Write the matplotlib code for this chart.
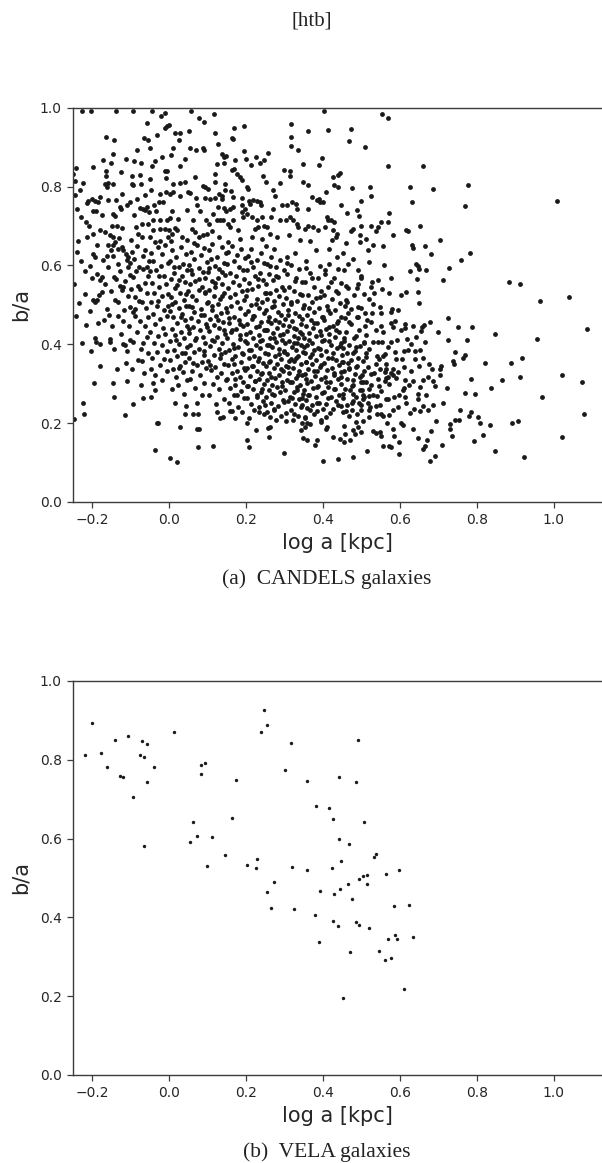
import matplotlib
matplotlib.use("Agg")
import matplotlib.pyplot as plt

# CANDELS galaxies: (log a [kpc], b/a)
cand_a = [(-.225,.991),(-.203,.991),(-.242,.846),(-.248,.832),(-.244,.815),(-.222,.810),(-.231,.790),
          (-.212,.758),(-.209,.764),(-.201,.769),(-.235,.663),(-.218,.586),(-.205,.598),(-.214,.710),
          (-.207,.701),(-.205,.484),(-.215,.448),(-.203,.382),(-.247,.211),(-.222,.251),(-.221,.224),
          (-.238,.742),(-.246,.553),(-.229,.612),(-.219,.528),(-.233,.505),(-.241,.471),(-.226,.402),
          (-.212,.671),(-.239,.634),(-.227,.722),(-.243,.779)]
cand_b = [(-.196,.849),(-.192,.763),(-.183,.760),(-.179,.773),(-.196,.739),(-.189,.739),(-.196,.680),
          (-.179,.689),(-.166,.684),(-.153,.676),(-.192,.621),(-.196,.629),(-.188,.579),(-.179,.564),
          (-.175,.570),(-.171,.614),(-.162,.625),(-.157,.597),(-.175,.532),(-.181,.524),(-.188,.513),
          (-.192,.507),(-.151,.535),(-.155,.473),(-.192,.416),(-.189,.405),(-.179,.401),(-.153,.414),
          (-.153,.405),(-.196,.511),(-.172,.868),(-.163,.925),(-.164,.839),(-.164,.828),(-.165,.807),
          (-.157,.810),(-.162,.798),(-.157,.767),(-.183,.455),(-.168,.462),(-.186,.652),(-.159,.652),
          (-.174,.728),(-.199,.568),(-.162,.489),(-.178,.345),(-.195,.302),(-.165,.553)]
cand_c = [(-.138,.991),(-.142,.918),(-.146,.883),(-.150,.860),(-.112,.870),(-.125,.836),(-.146,.807),
          (-.127,.749),(-.125,.743),(-.144,.731),(-.140,.726),(-.149,.701),(-.136,.699),(-.123,.695),
          (-.129,.670),(-.144,.672),(-.146,.653),(-.140,.659),(-.151,.638),(-.144,.625),(-.131,.642),
          (-.123,.646),(-.119,.638),(-.112,.629),(-.105,.621),(-.101,.606),(-.105,.597),(-.110,.613),
          (-.127,.587),(-.138,.566),(-.142,.570),(-.127,.549),(-.120,.545),(-.123,.537),(-.101,.575),
          (-.101,.494),(-.125,.425),(-.136,.338),(-.146,.302),(-.142,.266),(-.114,.220),(-.112,.352),
          (-.110,.308),(-.110,.384),(-.120,.401),(-.114,.397),(-.101,.411),(-.131,.472),(-.118,.458),
          (-.139,.512),(-.107,.523),(-.133,.604),(-.115,.561),(-.148,.446),(-.104,.446),(-.121,.781),
          (-.137,.765),(-.108,.752),(-.131,.507),(-.116,.488),(-.143,.389)]
cand_d = [(-.094,.991),(-.065,.922),(-.053,.917),(-.091,.866),(-.073,.859),(-.074,.830),(-.095,.828),
          (-.097,.807),(-.094,.804),(-.073,.807),(-.084,.769),(-.100,.760),(-.075,.746),(-.068,.743),
          (-.062,.741),(-.056,.748),(-.051,.735),(-.086,.697),(-.079,.680),(-.071,.673),(-.071,.705),
          (-.054,.704),(-.097,.634),(-.091,.617),(-.094,.570),(-.077,.596),(-.066,.591),(-.058,.596),
          (-.080,.549),(-.075,.541),(-.094,.482),(-.088,.490),(-.092,.405),(-.073,.389),(-.071,.357),
          (-.072,.296),(-.068,.264),(-.092,.249),(-.083,.432),(-.062,.447),(-.055,.469),(-.069,.508),
          (-.087,.521),(-.058,.531),(-.063,.556),(-.098,.541),(-.052,.612),(-.084,.648),(-.061,.639),
          (-.089,.472),(-.076,.458),(-.057,.418),(-.066,.402),(-.081,.361),(-.095,.338),(-.053,.379),
          (-.064,.326),(-.085,.585),(-.099,.665),(-.067,.623),(-.054,.572),(-.077,.509),(-.059,.493),
          (-.091,.727),(-.063,.778),(-.082,.893),(-.058,.961)]
cand_e = [(-.044,.991),(-.021,.978),(-.009,.986),(-.006,.954),(-.009,.948),(-.048,.898),(-.045,.853),
          (-.009,.839),(-.004,.839),(-.048,.818),(-.008,.822),(-.047,.791),(-.008,.785),(-.022,.781),
          (-.025,.760),(-.039,.754),(-.042,.714),(-.023,.716),(-.006,.716),(-.049,.672),(-.042,.689),
          (-.023,.693),(-.009,.693),(-.036,.659),(-.028,.646),(-.023,.663),(-.047,.338),(-.036,.283),
          (-.047,.266),(-.032,.199),(-.028,.200),(-.035,.131),(-.041,.612),(-.017,.628),(-.003,.605),
          (-.033,.588),(-.012,.574),(-.045,.556),(-.026,.546),(-.008,.552),(-.038,.531),(-.019,.522),
          (-.002,.528),(-.046,.508),(-.031,.497),(-.013,.488),(-.041,.476),(-.022,.465),(-.005,.471),
          (-.036,.452),(-.016,.441),(-.048,.432),(-.027,.421),(-.009,.426),(-.039,.403),(-.018,.398),
          (-.004,.384),(-.031,.381),(-.044,.366),(-.013,.362),(-.024,.347),(-.006,.333),(-.035,.322),
          (-.017,.309),(-.042,.301),(-.026,.573),(-.011,.651),(-.034,.737),(-.015,.762),(-.003,.671),
          (-.046,.631),(-.002,.496),(-.029,.509),(-.049,.585),(-.021,.598),(-.037,.866),(-.018,.874),
          (-.031,.931)]
cand_f = [(.000,.957),(.016,.936),(.030,.936),(.052,.941),(.025,.919),(.010,.898),(.043,.870),(.006,.879),
          (.029,.851),(.010,.807),(.029,.808),(.042,.811),(.011,.786),(.003,.780),(.030,.777),(.050,.786),
          (.047,.741),(.004,.721),(.007,.738),(.024,.718),(.000,.689),(.008,.680),(.016,.695),(.022,.689),
          (.033,.673),(.046,.665),(.003,.111),(.022,.102),(.030,.190),(.042,.224),(.005,.663),
          (.031,.647),(.008,.639),(.044,.628),(.019,.621),(.002,.612),(.037,.604),(.026,.596),(.047,.588),
          (.012,.581),(.033,.572),(.005,.566),(.041,.559),(.022,.551),(.015,.542),(.049,.536),(.029,.529),
          (.006,.521),(.038,.513),(.017,.507),(.045,.498),(.025,.491),(.003,.484),(.034,.476),(.011,.468),
          (.042,.462),(.021,.453),(.048,.446),(.007,.439),(.032,.431),(.016,.424),(.039,.415),(.002,.408),
          (.027,.401),(.046,.393),(.013,.386),(.035,.378),(.021,.369),(.004,.361),(.043,.354),(.028,.346),
          (.011,.338),(.036,.329),(.018,.318),(.047,.309),(.024,.296),(.008,.287),(.039,.274),(.016,.252),
          (.044,.243)]
cand_g = [(.057,.991),(.079,.975),(.092,.963),(.056,.897),(.071,.893),(.088,.897),(.092,.893),(.067,.824),
          (.089,.802),(.095,.798),(.070,.771),(.072,.752),(.055,.783),(.095,.770),(.059,.693),(.068,.684),
          (.079,.672),(.088,.676),(.098,.680),(.096,.714),(.063,.224),(.076,.224),(.072,.184),(.079,.186),
          (.076,.140),(.062,.716),(.081,.739),(.066,.658),
          (.072,.652),(.091,.644),(.057,.633),(.083,.626),(.064,.617),(.098,.609),(.051,.601),(.077,.593),
          (.088,.584),(.061,.577),(.095,.568),(.069,.561),(.054,.553),(.086,.546),(.078,.537),(.093,.529),
          (.059,.522),(.071,.513),(.099,.505),(.052,.497),(.084,.489),(.066,.482),(.091,.474),(.058,.466),
          (.075,.459),(.097,.451),(.063,.443),(.081,.436),(.053,.428),(.089,.419),(.069,.412),(.094,.404),
          (.056,.397),(.079,.389),(.066,.381),(.092,.372),(.051,.364),(.085,.356),(.073,.347),(.096,.339),
          (.061,.331),(.082,.322),(.055,.311),(.091,.302),(.068,.289),(.087,.271),(.074,.252)]
cand_h = [(.116,.983),(.119,.936),(.127,.909),(.139,.883),(.142,.876),(.148,.878),(.120,.832),(.124,.857),
          (.143,.859),(.102,.794),(.120,.811),(.145,.807),(.146,.790),(.131,.780),(.139,.777),(.137,.769),
          (.120,.771),(.128,.748),(.108,.769),(.144,.746),(.148,.738),(.114,.731),(.124,.714),(.133,.716),
          (.141,.714),(.105,.705),(.115,.143),(.124,.228),(.133,.213),(.141,.216),(.112,.688),(.131,.672),
          (.113,.655),(.137,.647),(.104,.639),(.148,.631),(.125,.622),(.109,.615),(.142,.607),(.119,.599),
          (.131,.591),(.102,.583),(.146,.576),(.127,.568),(.111,.561),(.139,.553),(.121,.545),(.105,.538),
          (.144,.531),(.116,.523),(.133,.516),(.101,.508),(.128,.501),(.149,.493),(.112,.486),(.136,.478),
          (.122,.471),(.107,.463),(.141,.456),(.118,.448),(.131,.441),(.103,.433),(.146,.426),(.124,.418),
          (.113,.411),(.138,.403),(.106,.396),(.129,.388),(.147,.381),(.117,.373),(.134,.366),(.102,.358),
          (.142,.351),(.121,.343),(.109,.335),(.136,.327),(.126,.318),(.148,.309),(.114,.298),(.131,.286),
          (.104,.272),(.143,.261),(.122,.248)]
cand_i = [(.168,.948),(.196,.954),(.164,.923),(.167,.920),(.194,.890),(.163,.842),(.169,.845),(.176,.832),
          (.184,.825),(.189,.817),(.161,.788),(.189,.770),(.189,.754),(.198,.744),(.193,.722),(.167,.773),
          (.167,.748),(.159,.743),(.154,.705),(.159,.697),(.167,.714),(.180,.689),(.189,.735),(.159,.231),
          (.163,.230),(.172,.214),(.202,.201),(.171,.868),(.153,.659),(.186,.667),
          (.163,.648),(.187,.641),(.154,.633),(.176,.626),(.198,.618),(.168,.611),(.151,.603),(.183,.596),
          (.192,.588),(.159,.581),(.174,.573),(.196,.566),(.166,.558),(.181,.551),(.153,.543),(.189,.536),
          (.171,.528),(.158,.521),(.194,.513),(.178,.506),(.162,.498),(.186,.491),(.152,.483),(.199,.476),
          (.169,.469),(.181,.461),(.156,.454),(.192,.446),(.174,.439),(.161,.431),(.185,.424),(.151,.416),
          (.197,.409),(.167,.401),(.179,.394),(.157,.386),(.191,.379),(.172,.371),(.163,.363),(.188,.356),
          (.154,.348),(.196,.341),(.176,.333),(.165,.326),(.184,.318),(.152,.311),(.193,.303),(.171,.296),
          (.159,.288),(.187,.281),(.168,.272),(.195,.263),(.157,.252),(.179,.241),(.189,.229)]
cand_j = [(.225,.874),(.236,.859),(.248,.867),(.201,.870),(.212,.854),(.203,.800),(.206,.794),(.236,.760),
          (.239,.753),(.228,.764),(.219,.766),(.209,.764),(.211,.756),(.202,.731),(.215,.722),(.228,.714),
          (.243,.722),(.223,.693),(.232,.697),(.247,.701),(.204,.158),(.209,.140),(.226,.182),(.244,.827),
          (.217,.672),(.241,.668),
          (.214,.641),(.238,.632),(.206,.623),(.229,.614),(.247,.606),(.219,.597),(.203,.589),(.236,.581),
          (.224,.572),(.244,.564),(.209,.556),(.231,.548),(.217,.539),(.249,.531),(.201,.523),(.228,.515),
          (.241,.507),(.212,.499),(.234,.492),(.205,.485),(.246,.478),(.222,.471),(.215,.464),(.239,.457),
          (.202,.451),(.227,.444),(.248,.437),(.211,.431),(.233,.424),(.218,.417),(.243,.411),(.204,.404),
          (.226,.398),(.237,.391),(.213,.385),(.249,.378),(.221,.371),(.207,.365),(.232,.358),(.245,.352),
          (.216,.345),(.202,.339),(.229,.332),(.241,.326),(.211,.319),(.235,.313),(.223,.306),(.247,.299),
          (.206,.293),(.219,.286),(.238,.279),(.228,.271),(.203,.264),(.244,.257),(.214,.249),(.233,.241),
          (.221,.232),(.246,.223),(.209,.214)]
cand_k = [(.258,.884),(.251,.811),(.270,.790),(.288,.808),(.271,.743),(.294,.752),(.298,.842),(.262,.680),
          (.280,.672),(.288,.714),(.254,.697),(.258,.188),(.262,.190),(.259,.165),(.300,.123),(.276,.776),
          (.265,.724),(.274,.641),(.253,.648),
          (.266,.622),(.289,.613),(.254,.604),(.277,.596),(.298,.588),(.261,.579),(.284,.571),(.271,.562),
          (.252,.554),(.293,.546),(.279,.538),(.263,.531),(.287,.523),(.256,.516),(.274,.509),(.296,.502),
          (.268,.495),(.251,.488),(.283,.481),(.291,.474),(.259,.468),(.276,.461),(.264,.455),(.297,.448),
          (.281,.442),(.253,.436),(.271,.429),(.288,.423),(.262,.417),(.294,.411),(.278,.405),(.255,.399),
          (.269,.393),(.286,.387),(.299,.381),(.258,.375),(.275,.369),(.291,.363),(.263,.357),(.282,.351),
          (.252,.345),(.272,.339),(.296,.333),(.261,.327),(.285,.321),(.276,.315),(.254,.309),(.293,.303),
          (.267,.297),(.281,.291),(.259,.284),(.289,.278),(.272,.271),(.251,.265),(.297,.258),(.264,.251),
          (.283,.244),(.273,.236),(.256,.228),(.292,.219),(.279,.209),(.262,.216)]
cand_l = [(.316,.958),(.316,.925),(.316,.903),(.336,.892),(.314,.839),(.349,.857),(.314,.828),(.320,.760),
          (.329,.756),(.333,.743),(.306,.752),(.304,.714),(.314,.722),(.323,.714),(.332,.705),(.336,.697),
          (.342,.182),(.347,.199),(.349,.161),(.311,.676),(.341,.664),(.327,.631),(.308,.622),
          (.318,.602),(.337,.591),(.306,.579),(.329,.568),(.346,.557),(.312,.546),(.324,.536),(.341,.527),
          (.303,.518),(.333,.509),(.316,.501),(.348,.493),(.309,.486),(.327,.479),(.339,.472),(.301,.465),
          (.321,.459),(.344,.452),(.313,.446),(.331,.439),(.306,.433),(.347,.427),(.324,.421),(.336,.415),
          (.311,.409),(.302,.403),(.342,.398),(.319,.392),(.329,.386),(.349,.381),(.308,.375),(.335,.369),
          (.317,.363),(.326,.357),(.344,.351),(.304,.345),(.322,.339),(.338,.333),(.313,.327),(.347,.321),
          (.329,.315),(.307,.309),(.319,.303),(.341,.297),(.333,.291),(.302,.285),(.324,.279),(.349,.273),
          (.314,.267),(.337,.261),(.309,.255),(.328,.248),(.343,.241),(.318,.234),(.305,.226),(.336,.218),
          (.322,.209),(.346,.264),(.311,.357),(.332,.402)]
cand_m = [(.362,.940),(.389,.855),(.397,.873),(.349,.811),(.362,.805),(.373,.773),(.384,.766),(.391,.769),
          (.392,.760),(.362,.743),(.353,.693),(.362,.701),(.375,.697),(.388,.689),(.358,.199),(.353,.190),
          (.358,.157),(.400,.103),(.379,.144),(.384,.157),(.381,.639),(.367,.662),(.356,.612),(.393,.598),
          (.366,.581),(.387,.569),(.354,.557),(.376,.546),(.395,.536),(.361,.526),(.383,.517),(.371,.508),
          (.352,.499),(.391,.491),(.378,.483),(.358,.475),(.397,.468),(.368,.461),(.385,.454),(.356,.447),
          (.374,.441),(.393,.434),(.363,.428),(.381,.422),(.351,.416),(.398,.409),(.371,.403),(.359,.397),
          (.388,.391),(.377,.385),(.354,.379),(.394,.373),(.366,.367),(.383,.361),(.357,.355),(.373,.349),
          (.392,.343),(.362,.337),(.385,.331),(.353,.325),(.379,.319),(.396,.313),(.368,.307),(.358,.301),
          (.387,.295),(.374,.289),(.352,.283),(.399,.277),(.364,.271),(.381,.265),(.356,.258),(.391,.252),
          (.371,.245),(.359,.238),(.386,.231),(.376,.223),(.354,.215),(.394,.207),(.367,.198)]
cand_n = [(.404,.991),(.413,.944),(.427,.824),(.440,.830),(.444,.834),(.428,.805),(.440,.800),(.407,.787),
          (.446,.752),(.401,.760),(.412,.716),(.421,.716),(.428,.711),(.434,.673),(.423,.665),(.405,.697),
          (.410,.722),(.427,.689),(.436,.680),(.407,.186),(.410,.190),(.427,.165),(.440,.108),(.444,.159),
          (.409,.216),(.401,.236),(.416,.641),(.437,.622),
          (.417,.604),(.438,.591),(.406,.579),(.429,.567),(.447,.556),(.413,.545),(.434,.534),(.402,.524),
          (.423,.514),(.444,.505),(.411,.496),(.431,.487),(.419,.478),(.448,.470),(.404,.462),(.437,.454),
          (.425,.447),(.409,.439),(.442,.432),(.415,.425),(.432,.418),(.403,.411),(.446,.404),(.421,.397),
          (.436,.391),(.408,.384),(.427,.378),(.449,.372),(.414,.365),(.433,.359),(.402,.353),(.441,.347),
          (.424,.341),(.411,.335),(.446,.329),(.429,.323),(.405,.317),(.438,.311),(.419,.305),(.447,.299),
          (.412,.292),(.431,.286),(.403,.279),(.443,.272),(.422,.265),(.435,.257),(.408,.249),(.447,.244),
          (.426,.236)]
cand_o = [(.473,.945),(.469,.916),(.475,.796),(.462,.732),(.488,.741),(.493,.725),(.479,.693),(.474,.686),
          (.497,.678),(.496,.659),(.460,.656),(.499,.700),(.491,.589),(.466,.603),(.500,.574),(.498,.569),
          (.491,.552),(.489,.542),(.461,.548),(.466,.543),(.460,.513),(.463,.506),(.492,.494),(.500,.492),
          (.474,.490),(.478,.114),(.458,.173),(.455,.151),(.456,.192),(.492,.189),(.479,.182),(.483,.173),
          (.468,.219),(.476,.233),(.488,.224),(.498,.233),(.494,.251),(.498,.245),(.476,.251),(.487,.267),
          (.476,.294),(.479,.275),(.470,.283),(.458,.287),(.484,.324),(.479,.310),(.496,.317),(.491,.365),
          (.479,.377),(.464,.352),(.472,.360),(.452,.355),(.487,.392),(.468,.398),(.455,.409),(.482,.415),
          (.461,.432),(.494,.437),(.473,.452),(.458,.467),(.489,.470),(.466,.478),(.496,.396),(.454,.332),
          (.469,.341),(.487,.343),(.463,.311),(.451,.263),(.462,.246),(.485,.203),(.471,.156),(.453,.227),
          (.497,.284),(.451,.391),(.481,.526),(.456,.588),(.478,.617),(.452,.631)]
cand_p = [(.510,.900),(.522,.798),(.526,.776),(.500,.763),(.524,.699),(.538,.686),(.544,.698),(.550,.711),
          (.513,.667),(.531,.653),(.518,.640),(.519,.609),(.527,.557),(.524,.545),(.544,.564),(.521,.515),
          (.529,.501),(.510,.480),(.549,.494),(.550,.480),(.527,.478),(.524,.456),(.550,.447),(.531,.406),
          (.544,.406),(.506,.406),(.540,.370),(.545,.362),(.537,.351),(.512,.377),(.503,.358),(.521,.387),
          (.516,.343),(.503,.305),(.513,.305),(.542,.311),(.546,.293),(.541,.268),(.549,.245),(.519,.270),
          (.517,.250),(.522,.240),(.505,.261),(.503,.272),(.530,.272),(.501,.285),(.503,.206),(.520,.233),
          (.521,.215),(.539,.244),(.550,.222),(.541,.224),(.529,.180),(.537,.176),(.548,.178),(.550,.168),
          (.500,.178),(.515,.130),(.533,.326),(.507,.332),(.526,.296),(.548,.337),(.511,.424),(.537,.437),
          (.514,.461),(.534,.531),(.508,.527),(.502,.321)]
cand_q = [(.553,.983),(.568,.973),(.569,.853),(.572,.733),(.569,.711),(.581,.676),(.556,.648),(.558,.602),
          (.576,.568),(.554,.541),(.579,.489),(.576,.483),(.596,.488),(.587,.458),(.583,.444),(.553,.406),
          (.569,.393),(.576,.406),(.561,.376),(.555,.370),(.591,.362),(.582,.321),(.568,.317),(.562,.330),
          (.564,.337),(.578,.327),(.582,.338),(.596,.329),(.589,.315),(.564,.315),(.562,.308),(.572,.299),
          (.563,.262),(.570,.260),(.586,.267),(.555,.218),(.571,.220),(.581,.233),(.556,.142),(.571,.142),
          (.582,.184),(.585,.167),(.598,.151),(.597,.122),(.576,.139),(.565,.351),(.588,.380),(.557,.431),
          (.593,.412),(.571,.529),(.599,.271),(.552,.281),(.594,.241),(.566,.199),(.578,.453)]
cand_r = [(.627,.799),(.632,.762),(.617,.689),(.622,.686),(.632,.653),(.634,.645),(.643,.604),(.647,.598),
          (.650,.591),(.627,.586),(.602,.524),(.617,.532),(.647,.532),(.649,.504),(.644,.565),(.613,.451),
          (.613,.440),(.635,.447),(.630,.400),(.611,.382),(.621,.385),(.639,.383),(.640,.362),(.650,.344),
          (.614,.309),(.633,.308),(.607,.285),(.611,.288),(.646,.273),(.646,.260),(.614,.265),(.615,.251),
          (.625,.226),(.604,.201),(.607,.195),(.634,.184),(.646,.161),(.611,.342),(.628,.331),(.606,.362),
          (.641,.418),(.619,.413),(.603,.437),(.624,.297),(.637,.236)]
cand_s = [(.661,.851),(.686,.794),(.653,.699),(.664,.650),(.681,.629),(.669,.588),(.678,.456),(.656,.433),
          (.658,.445),(.663,.450),(.699,.430),(.664,.405),(.653,.385),(.676,.349),(.687,.306),(.690,.294),
          (.686,.247),(.672,.233),(.659,.244),(.653,.230),(.653,.292),(.660,.309),(.673,.316),(.660,.134),
          (.666,.141),(.671,.156),(.677,.103),(.692,.116),(.659,.366),(.683,.336),(.668,.271),(.694,.206),
          (.681,.179)]
cand_t = [(.776,.805),(.770,.750),(.703,.665),(.781,.632),(.758,.614),(.727,.594),(.713,.562),(.726,.467),
          (.750,.443),(.788,.444),(.726,.410),(.774,.412),(.742,.381),(.769,.372),(.763,.366),(.707,.344),
          (.705,.338),(.737,.358),(.741,.351),(.784,.312),(.770,.276),(.796,.273),(.705,.321),(.709,.144),
          (.729,.197),(.731,.186),(.742,.207),(.754,.207),(.736,.168),(.756,.234),(.780,.218),(.786,.227),
          (.792,.155),(.712,.251),(.722,.289)]
cand_u = [(.803,.216),(.809,.201),(.815,.169),(.835,.195),(.848,.130),(.892,.199),(.906,.205),(.923,.115),
          (.821,.353),(.888,.352),(.918,.366),(.846,.425),(.957,.413),(1.086,.439),(.865,.309),(.837,.288),
          (.912,.318),(.970,.267),(1.079,.222),(1.021,.321),(1.073,.305),(1.021,.164),(.883,.559),
          (.912,.554),(1.039,.520),(.963,.510),(1.007,.763)]
# extra points in the crowded core (0.15 < log a < 0.53, 0.2 < b/a < 0.48)
cand_core = [(.157,.466),(.219,.471),(.258,.460),(.309,.475),(.347,.463),(.401,.470),(.439,.460),(.492,.469),
             (.186,.451),(.233,.447),(.285,.456),(.324,.441),(.376,.453),(.416,.444),(.468,.456),(.509,.446),
             (.163,.435),(.201,.426),(.256,.437),(.296,.427),(.341,.431),(.394,.424),(.434,.436),(.485,.422),
             (.184,.413),(.237,.408),(.272,.417),(.326,.404),(.364,.412),(.417,.407),(.455,.417),(.506,.403),
             (.168,.391),(.208,.385),(.259,.397),(.299,.383),(.351,.392),(.393,.388),(.444,.396),(.484,.382),
             (.193,.374),(.234,.365),(.287,.376),(.331,.364),(.371,.375),(.424,.366),(.463,.377),(.513,.368),
             (.169,.351),(.219,.345),(.259,.356),(.309,.343),(.356,.355),(.396,.347),(.449,.354),(.489,.346),
             (.197,.334),(.239,.325),(.291,.336),(.335,.323),(.377,.333),(.429,.328),(.468,.337),(.525,.324),
             (.172,.312),(.224,.306),(.264,.316),(.315,.303),(.355,.313),(.407,.305),(.448,.316),(.499,.303),
             (.202,.294),(.243,.287),(.295,.293),(.334,.285),(.386,.292),(.428,.287),(.479,.296),(.521,.286),
             (.178,.271),(.229,.267),(.269,.275),(.321,.263),(.361,.272),(.412,.264),(.452,.273),(.507,.267),
             (.249,.247),(.299,.253),(.346,.245),(.386,.252),(.438,.246),(.478,.255),
             (.233,.227),(.274,.232),(.324,.223),(.366,.233),(.418,.225),(.459,.230),
             (.304,.206),(.354,.212),(.395,.203)]
# extra points in the band 0.0 < log a < 0.15 and in the upper core
cand_band = [(.012,.597),(.058,.589),(.103,.594),(.137,.583),(.027,.562),(.079,.566),(.121,.556),(.044,.528),
             (.094,.533),(.139,.522),(.009,.503),(.061,.494),(.113,.498),(.032,.469),(.084,.473),(.128,.462),
             (.051,.438),(.099,.443),(.143,.437),(.018,.411),(.071,.417),(.118,.408),(.041,.378),(.092,.383),
             (.136,.374),(.063,.352),(.108,.347),(.026,.341),
             (.214,.608),(.262,.598),(.308,.606),(.357,.593),(.405,.589),(.231,.566),(.279,.574),(.327,.561),
             (.373,.568),(.421,.559),(.204,.537),(.251,.529),(.298,.538),(.346,.526),(.392,.521),(.438,.531),
             (.226,.501),(.272,.496),(.318,.506),(.363,.493),(.413,.488),(.457,.497)]

# VELA galaxies
vela = [(-.218,.812),(-.201,.893),(-.176,.818),(-.160,.782),(-.140,.850),(-.126,.760),(-.118,.756),
        (-.106,.861),(-.094,.706),(-.076,.812),(-.071,.847),(-.064,.808),(-.058,.839),(-.058,.744),
        (-.065,.582),(-.039,.782),(.014,.870),(.055,.590),(.063,.641),(.072,.607),(.083,.787),(.083,.765),
        (.094,.791),(.098,.531),(.113,.603),(.147,.558),(.164,.651),(.175,.748),(.203,.533),(.228,.548),
        (.227,.526),(.239,.871),(.246,.927),(.255,.888),(.302,.775),(.318,.842),(.319,.528),(.360,.745),
        (.358,.519),(.382,.683),(.416,.678),(.426,.649),(.424,.526),(.442,.599),(.442,.756),(.492,.851),
        (.485,.743),(.506,.641),(.469,.586),(.539,.562),(.532,.553),(.448,.542),(.565,.511),(.597,.519),
        (.494,.497),(.505,.505),(.515,.508),(.514,.484),(.464,.485),(.444,.473),(.429,.460),(.393,.468),
        (.274,.490),(.254,.464),(.264,.423),(.326,.421),(.475,.447),(.586,.430),(.623,.431),(.380,.405),
        (.426,.390),(.438,.379),(.487,.388),(.493,.380),(.519,.373),(.390,.338),(.587,.354),(.592,.345),
        (.568,.344),(.635,.351),(.470,.311),(.547,.315),(.562,.292),(.576,.297),(.610,.217),(.453,.196)]

candels = (cand_a + cand_b + cand_c + cand_d + cand_e + cand_f + cand_g + cand_h + cand_i + cand_j
           + cand_k + cand_l + cand_m + cand_n + cand_o + cand_p + cand_q + cand_r + cand_s + cand_t
           + cand_u + cand_core + cand_band)

fig = plt.figure(figsize=(6.02, 11.63), dpi=100)
ax1 = fig.add_axes([0.1213, 0.5684, 0.8787, 0.3390])
ax2 = fig.add_axes([0.1213, 0.0757, 0.8787, 0.3388])

ax1.scatter([p[0] for p in candels], [p[1] for p in candels], s=12, color="#1a1a1a", linewidths=0)
ax2.scatter([p[0] for p in vela], [p[1] for p in vela], s=6, color="#1a1a1a", linewidths=0)

for ax in (ax1, ax2):
    ax.set_xlim(-0.249, 1.125)
    ax.set_ylim(0, 1)
    ax.set_xticks([-0.2, 0.0, 0.2, 0.4, 0.6, 0.8, 1.0])
    ax.set_yticks([0.0, 0.2, 0.4, 0.6, 0.8, 1.0])
    ax.spines["right"].set_visible(False)
    for s in ("left", "bottom", "top"):
        ax.spines[s].set_color("#3c3c3c")
        ax.spines[s].set_linewidth(1.0)
    ax.tick_params(labelsize=10, length=4.5, width=0.9, color="#3c3c3c", labelcolor="#262626")
    ax.set_xlabel("log a [kpc]", fontsize=15, color="#262626")
    ax.set_ylabel("b/a", fontsize=15, color="#262626", labelpad=7)

serif = ["Liberation Serif", "DejaVu Serif"]
fig.text(0.518, 0.982, "[htb]", family=serif, fontsize=15, ha="center", va="center", color="#222222")
fig.text(0.543, 0.502, "(a)  CANDELS galaxies", family=serif, fontsize=15.5, ha="center", va="center",
         color="#222222")
fig.text(0.543, 0.0095, "(b)  VELA galaxies", family=serif, fontsize=15.5, ha="center", va="center",
         color="#222222")

fig.savefig("out.png", dpi=100)
